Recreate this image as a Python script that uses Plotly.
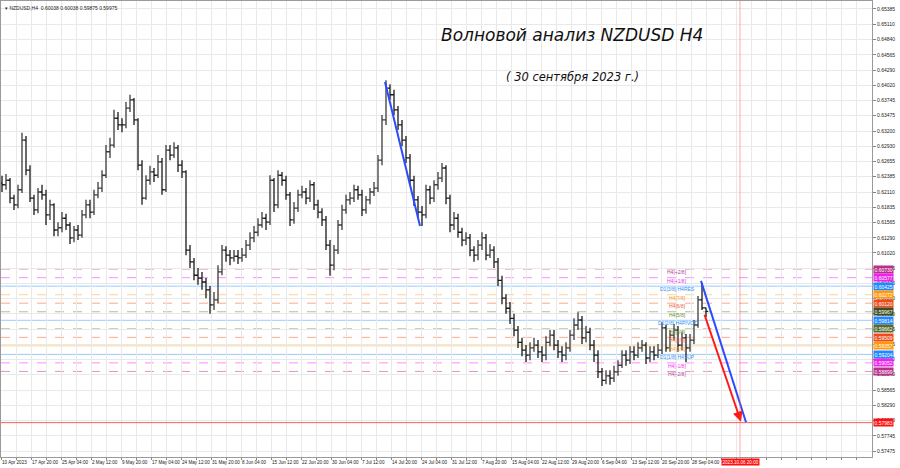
import plotly.graph_objects as go

# ---------------- data ----------------
first_open = 0.6227
closes = [0.6224,0.6232,0.6200,0.6188,0.6215,0.6304,0.6250,0.6200,0.6179,0.6211,
          0.6206,0.6170,0.6188,0.6143,0.6147,0.6164,0.6152,0.6129,0.6143,0.6134,
          0.6170,0.6188,0.6175,0.6206,0.6218,0.6241,0.6283,0.6295,0.6343,0.6331,
          0.6331,0.6361,0.6376,0.6340,0.6259,0.6200,0.6232,0.6247,0.6241,0.6265,
          0.6215,0.6286,0.6277,0.6290,0.6259,0.6247,0.6107,0.6086,0.6062,0.6057,
          0.6050,0.6036,0.6009,0.6018,0.6068,0.6107,0.6098,0.6093,0.6096,0.6093,
          0.6098,0.6116,0.6129,0.6139,0.6152,0.6164,0.6157,0.6232,0.6188,0.6241,
          0.6232,0.6206,0.6161,0.6182,0.6206,0.6211,0.6200,0.6224,0.6188,0.6175,
          0.6161,0.6116,0.6080,0.6107,0.6152,0.6179,0.6197,0.6200,0.6215,0.6206,
          0.6179,0.6197,0.6211,0.6218,0.6268,0.6340,0.6397,0.6385,0.6358,0.6331,
          0.6304,0.6272,0.6232,0.6197,0.6175,0.6170,0.6215,0.6200,0.6224,0.6236,
          0.6254,0.6200,0.6152,0.6164,0.6139,0.6125,0.6129,0.6107,0.6098,0.6116,
          0.6129,0.6098,0.6107,0.6086,0.6053,0.6021,0.6003,0.5985,0.5964,0.5942,
          0.5928,0.5919,0.5932,0.5937,0.5925,0.5919,0.5942,0.5955,0.5937,0.5925,
          0.5919,0.5932,0.5955,0.5973,0.5982,0.5950,0.5960,0.5937,0.5919,0.5889,
          0.5874,0.5882,0.5878,0.5889,0.5901,0.5919,0.5910,0.5925,0.5919,0.5932,
          0.5937,0.5914,0.5925,0.5919,0.5928,0.5968,0.5932,0.5955,0.5964,0.5937,
          0.5950,0.5932,0.5946,0.5973,0.6018,0.60038,0.59975]
highs = [0.6240,0.6243,0.6236,0.6206,0.6224,0.6317,0.6311,0.6259,0.6206,0.6218,
         0.6224,0.6215,0.6197,0.6191,0.6157,0.6175,0.6172,0.6157,0.6150,0.6152,
         0.6179,0.6197,0.6197,0.6215,0.6229,0.6250,0.6295,0.6308,0.6358,0.6354,
         0.6343,0.6372,0.6385,0.6379,0.6343,0.6268,0.6241,0.6258,0.6254,0.6277,
         0.6272,0.6295,0.6295,0.6300,0.6295,0.6268,0.6250,0.6116,0.6093,0.6075,
         0.6068,0.6057,0.6043,0.6032,0.6080,0.6116,0.6114,0.6107,0.6107,0.6107,
         0.6111,0.6125,0.6139,0.6150,0.6164,0.6175,0.6172,0.6241,0.6236,0.6250,
         0.6247,0.6240,0.6211,0.6193,0.6215,0.6222,0.6218,0.6232,0.6229,0.6197,
         0.6182,0.6168,0.6125,0.6116,0.6161,0.6188,0.6206,0.6211,0.6224,0.6222,
         0.6215,0.6204,0.6218,0.6229,0.6277,0.6349,0.6411,0.6404,0.6394,0.6365,
         0.6340,0.6311,0.6279,0.6240,0.6204,0.6186,0.6224,0.6222,0.6232,0.6247,
         0.6263,0.6259,0.6206,0.6175,0.6172,0.6147,0.6139,0.6136,0.6114,0.6125,
         0.6139,0.6136,0.6118,0.6114,0.6093,0.6061,0.6028,0.6014,0.5993,0.5971,
         0.5950,0.5937,0.5942,0.5950,0.5946,0.5935,0.5953,0.5964,0.5964,0.5946,
         0.5935,0.5942,0.5964,0.5985,0.5996,0.5989,0.5971,0.5968,0.5946,0.5928,
         0.5896,0.5892,0.5892,0.5900,0.5910,0.5928,0.5928,0.5935,0.5935,0.5942,
         0.5946,0.5942,0.5935,0.5935,0.5939,0.5978,0.5973,0.5964,0.5975,0.5971,
         0.5960,0.5957,0.5957,0.5982,0.6025,0.6048,0.60038]
lows = [0.6211,0.6215,0.6191,0.6179,0.6182,0.6209,0.6241,0.6193,0.6170,0.6173,
        0.6197,0.6152,0.6161,0.6132,0.6132,0.6139,0.6143,0.6118,0.6121,0.6125,
        0.6129,0.6164,0.6164,0.6170,0.6200,0.6211,0.6236,0.6272,0.6290,0.6322,
        0.6318,0.6325,0.6354,0.6331,0.6250,0.6188,0.6197,0.6224,0.6229,0.6236,
        0.6206,0.6211,0.6268,0.6272,0.6247,0.6236,0.6098,0.6075,0.6053,0.6045,
        0.6036,0.6021,0.5993,0.6000,0.6012,0.6062,0.6086,0.6080,0.6086,0.6082,
        0.6086,0.6093,0.6107,0.6121,0.6132,0.6147,0.6143,0.6152,0.6175,0.6182,
        0.6222,0.6197,0.6150,0.6154,0.6175,0.6200,0.6189,0.6193,0.6179,0.6164,
        0.6150,0.6107,0.6061,0.6071,0.6100,0.6143,0.6172,0.6188,0.6193,0.6197,
        0.6168,0.6172,0.6189,0.6204,0.6211,0.6259,0.6331,0.6376,0.6349,0.6322,
        0.6293,0.6263,0.6224,0.6186,0.6164,0.6150,0.6164,0.6189,0.6193,0.6215,
        0.6229,0.6189,0.6139,0.6143,0.6129,0.6114,0.6116,0.6096,0.6086,0.6089,
        0.6107,0.6089,0.6093,0.6075,0.6043,0.6010,0.5993,0.5975,0.5953,0.5932,
        0.5917,0.5907,0.5910,0.5925,0.5914,0.5907,0.5910,0.5935,0.5928,0.5914,
        0.5907,0.5910,0.5925,0.5946,0.5964,0.5939,0.5942,0.5928,0.5907,0.5878,
        0.5864,0.5867,0.5866,0.5871,0.5882,0.5896,0.5900,0.5903,0.5910,0.5914,
        0.5925,0.5903,0.5907,0.5910,0.5914,0.5921,0.5925,0.5925,0.5946,0.5925,
        0.5928,0.5907,0.5925,0.5939,0.5968,0.6000,0.59875]
opens = [first_open] + closes[:-1]
bars = list(range(len(closes)))

x_labels = ["10 Apr 2023", "17 Apr 20:00", "25 Apr 04:00", "2 May 12:00", "9 May 20:00",
            "17 May 04:00", "24 May 12:00", "31 May 20:00", "8 Jun 04:00", "15 Jun 12:00",
            "22 Jun 20:00", "30 Jun 04:00", "7 Jul 12:00", "14 Jul 20:00", "24 Jul 04:00",
            "31 Jul 12:00", "7 Aug 20:00", "15 Aug 04:00", "22 Aug 12:00", "29 Aug 20:00",
            "6 Sep 04:00", "13 Sep 12:00", "20 Sep 20:00", "28 Sep 04:00"]
y_ticks = [0.65385, 0.65110, 0.64840, 0.64565, 0.64290, 0.64020, 0.63745, 0.63475,
           0.63200, 0.62930, 0.62655, 0.62385, 0.62110, 0.61835, 0.61565, 0.61290,
           0.61020, 0.60745, 0.60475, 0.60200, 0.59930, 0.59655, 0.59385, 0.59110,
           0.58840, 0.58565, 0.58290, 0.58020, 0.57745, 0.57475]

murrey_levels = [0.60730, 0.60577, 0.60425, 0.60272, 0.60120, 0.59967, 0.59814,
                 0.59662, 0.59509, 0.59357, 0.59204, 0.59052, 0.58899]
murrey_names = ["H4[+2/8]", "H4[+1/8]", "D1[3/8] H4RES", "H4[7/8]", "H4[6/8]", "H4[5/8]",
                "D1[2/8] H4PIVOT", "H4[3/8]", "H4[2/8]", "H4[1/8]", "D1[1/8] H4SUP",
                "H4[-1/8]", "H4[-2/8]"]
target_level = 0.57983
forecast_bar = 184.5
forecast_label = "2023.10.06 20:00"

# drawn wave lines (bar index, price)
blue1_x = [95.75, 104.5]
blue1_y = [0.6408, 0.6150]
blue2_x = [174.75, 186.0]
blue2_y = [0.6052, 0.5799]
red_x = [175.5, 184.75]
red_y = [0.5994, 0.5800]

# ---------------- styles ----------------
level_line_colors = ["#c71585", "#ff00ff", "#1e90ff", "#ffa500", "#ff4500", "#556b2f",
                     "#1e90ff", "#556b2f", "#ff4500", "#ffa500", "#1e90ff", "#ff00ff", "#c71585"]
level_dash = ["dash", "dash", "solid", "dash", "dash", "dash", "solid", "dash", "dash",
              "solid", "solid", "dash", "dash"]
level_box_colors = ["#b8308a", "#ee22ee", "#2288ff", "#ff9a10", "#f04a1a", "#3f4d22",
                    "#2288ff", "#556b2f", "#f04a1a", "#ff9a10", "#2288ff", "#ee22ee", "#b8308a"]
level_text_colors = ["#c0409a", "#ee33ee", "#2f8fef", "#f59a20", "#f0603a", "#6b8e23",
                     "#2f8fef", "#6b8e23", "#f0603a", "#f59a20", "#2f8fef", "#ee33ee", "#c0409a"]

FONT = "Liberation Sans"

fig = go.Figure()

fig.add_trace(go.Ohlc(
    x=bars, open=opens, high=highs, low=lows, close=closes,
    increasing=dict(line=dict(color="#3c3c3c", width=1.3)),
    decreasing=dict(line=dict(color="#1a1a1a", width=1.3)),
    tickwidth=0.5, showlegend=False, hoverinfo="skip"))

fig.add_trace(go.Scatter(x=blue1_x, y=blue1_y, mode="lines",
                         line=dict(color="#2b4bff", width=2), showlegend=False, hoverinfo="skip"))
fig.add_trace(go.Scatter(x=blue2_x, y=blue2_y, mode="lines",
                         line=dict(color="#2b4bff", width=2), showlegend=False, hoverinfo="skip"))

shapes = []
annotations = []
for lv, name, lc, dsh, bc, tc in zip(murrey_levels, murrey_names, level_line_colors,
                                      level_dash, level_box_colors, level_text_colors):
    shapes.append(dict(type="line", xref="paper", x0=0, x1=1, yref="y", y0=lv, y1=lv,
                       line=dict(color=lc, width=1, dash=dsh), opacity=0.45, layer="below"))
    annotations.append(dict(xref="x", yref="y", x=168.75, y=lv, yshift=-3, text=name,
                            showarrow=False, font=dict(family=FONT, size=5, color=tc)))
    annotations.append(dict(xref="paper", yref="y", x=1, y=lv, xanchor="left", xshift=1,
                            text=f"{lv:.5f}", showarrow=False, bgcolor=bc, borderpad=0.5,
                            font=dict(family=FONT, size=5, color="white")))

# target line
shapes.append(dict(type="line", xref="paper", x0=0, x1=1, yref="y", y0=target_level,
                   y1=target_level, line=dict(color="#ff3030", width=1), opacity=0.8))
annotations.append(dict(xref="paper", yref="y", x=1, y=target_level, xanchor="left", xshift=1,
                        text=f"{target_level:.5f}", showarrow=False, bgcolor="#ff1010",
                        borderpad=0.5, font=dict(family=FONT, size=5, color="white")))
# forecast vertical line
shapes.append(dict(type="line", xref="x", x0=forecast_bar, x1=forecast_bar, yref="paper",
                   y0=0, y1=1, line=dict(color="rgba(255,90,90,0.35)", width=1.5)))
annotations.append(dict(xref="x", yref="paper", x=forecast_bar, y=0, yanchor="top", yshift=-1,
                        text=forecast_label, showarrow=False, bgcolor="#ff1010", borderpad=0.5,
                        font=dict(family=FONT, size=4.6, color="white")))

# red arrow
annotations.append(dict(xref="x", yref="y", axref="x", ayref="y",
                        x=red_x[1], y=red_y[1], ax=red_x[0], ay=red_y[0], text="",
                        showarrow=True, arrowhead=2, arrowsize=1, arrowwidth=2,
                        arrowcolor="#ff1a1a"))

# titles
annotations.append(dict(xref="paper", yref="paper", x=0.6556, y=0.925, yanchor="middle",
                        text="Волновой анализ NZDUSD H4", showarrow=False,
                        font=dict(family="DejaVu Sans", size=17, color="#111111", style="italic")))
annotations.append(dict(xref="paper", yref="paper", x=0.6556, y=0.833, yanchor="middle",
                        text="( 30 сентября 2023 г.)", showarrow=False,
                        font=dict(family="DejaVu Sans", size=11.5, color="#111111", style="italic")))
annotations.append(dict(xref="paper", yref="paper", x=0, y=1, xanchor="left", yanchor="top",
                        xshift=2, yshift=-2,
                        text="▾ NZDUSD,H4  0.60038 0.60038 0.59875 0.59975", showarrow=False,
                        font=dict(family=FONT, size=5, color="#222222")))

# x ticks (labels every 30 px, grid every 15 px)
n_grid = 58
x_tickvals = [-0.25 + 3.75 * j for j in range(n_grid)]
x_ticktext = [(x_labels[j // 2] if (j % 2 == 0 and j // 2 < len(x_labels)) else "")
              for j in range(n_grid)]

fig.update_layout(
    width=900, height=468,
    margin=dict(l=1, r=28, t=1, b=11, autoexpand=False),
    paper_bgcolor="white", plot_bgcolor="white",
    shapes=shapes, annotations=annotations,
    xaxis=dict(range=[-0.25, 217.5], tickvals=x_tickvals, ticktext=x_ticktext,
               ticklabelposition="outside right", ticks="outside", ticklen=2,
               tickangle=0, automargin=False,
               tickcolor="#888", showgrid=True, gridcolor="#e9e9e9", gridwidth=1,
               zeroline=False, showline=True, linecolor="#9a9a9a", mirror=True,
               tickfont=dict(family=FONT, size=4.6, color="#222"),
               rangeslider=dict(visible=False), fixedrange=True),
    yaxis=dict(range=[0.57368, 0.65528], side="right", tickvals=y_ticks,
               ticktext=[f"{v:.5f}" for v in y_ticks], ticks="outside", ticklen=3,
               automargin=False,
               tickcolor="#888", showgrid=True, gridcolor="#e9e9e9", gridwidth=1,
               zeroline=False, showline=True, linecolor="#9a9a9a", mirror=True,
               tickfont=dict(family=FONT, size=5, color="#222"), fixedrange=True),
)

fig.write_html("out.html", config={"displayModeBar": False},
               post_script="document.body.style.margin='0';document.body.style.padding='0';")
